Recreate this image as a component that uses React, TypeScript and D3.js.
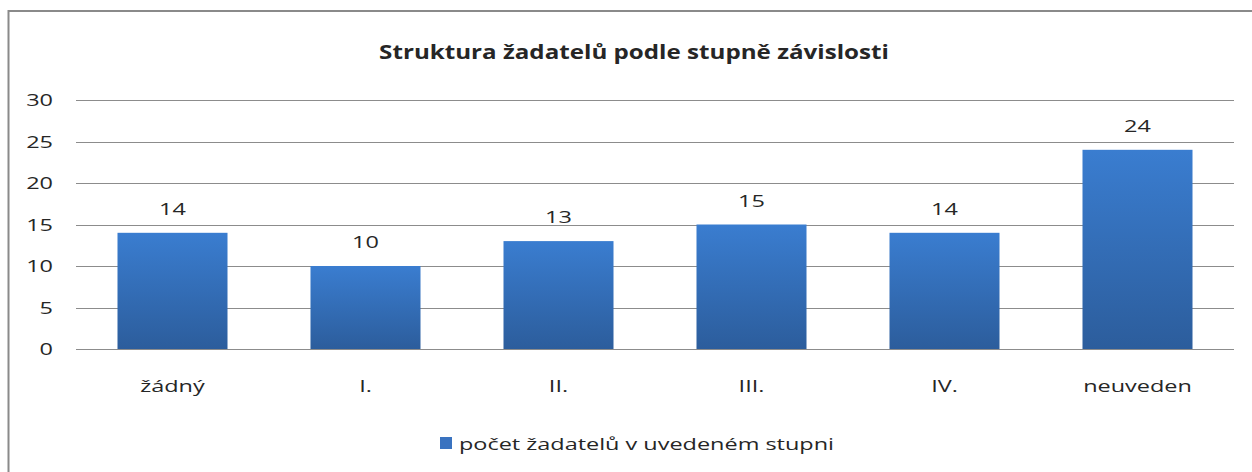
import React from "react";
import * as d3 from "d3";

const categories = ["žádný", "I.", "II.", "III.", "IV.", "neuveden"];
const values = [14, 10, 13, 15, 14, 24];
const yTicks = [0, 5, 10, 15, 20, 25, 30];
const title = "Struktura žadatelů podle stupně závislosti";
const seriesName = "počet žadatelů v uvedeném stupni";

const W = 1252;
const H = 472;
const FONT = "'Open Sans', 'Noto Sans', sans-serif";
const SX = 1.38;

function T({ x, y, anchor = "middle", size = 17, sx = SX, weight = "normal", children }: any) {
  return (
    <text
      transform={`translate(${x},${y}) scale(${sx},1)`}
      textAnchor={anchor}
      fontSize={size}
      fontWeight={weight}
      fill="#262626"
    >
      {children}
    </text>
  );
}

export default function App() {
  const left = 76;
  const right = 1234;
  const top = 100;
  const bottom = 349;
  const x = d3.scaleBand<string>().domain(categories).range([left, right]).paddingInner(0.43).paddingOuter(0.215);
  const y = d3.scaleLinear().domain([0, 30]).range([bottom, top]);

  return (
    <svg width={W} height={H} style={{ position: "absolute", left: 0, top: 0 }} fontFamily={FONT}>
      <defs>
        <linearGradient id="barGrad" x1="0" y1="0" x2="0" y2="1">
          <stop offset="0%" stopColor="#3a7dd0" />
          <stop offset="100%" stopColor="#2c5d9c" />
        </linearGradient>
      </defs>
      <rect x={0} y={0} width={W} height={H} fill="#fff" />
      <path d={`M8.5,${H + 2} L8.5,11 L${W + 2},11`} fill="none" stroke="#8a8a8a" strokeWidth={2} />
      <T x={634} y={59} size={19.5} sx={1.24} weight="bold">{title}</T>
      {yTicks.map((t) => (
        <g key={t}>
          <line x1={left} x2={right} y1={Math.round(y(t)) + 0.5} y2={Math.round(y(t)) + 0.5} stroke="#8c8c8c" strokeWidth={1} />
          <T x={53} y={y(t) + 6} anchor="end">{t}</T>
        </g>
      ))}
      {categories.map((c, i) => (
        <g key={c}>
          <rect x={x(c)} y={y(values[i])} width={x.bandwidth()} height={y(0) - y(values[i])} fill="url(#barGrad)" />
          <T x={x(c)! + x.bandwidth() / 2} y={y(values[i]) - 18}>{values[i]}</T>
          <T x={x(c)! + x.bandwidth() / 2} y={392}>{c}</T>
        </g>
      ))}
      <rect x={440} y={437} width={12} height={12} fill="#3a73c0" />
      <T x={459} y={450} anchor="start">{seriesName}</T>
    </svg>
  );
}
